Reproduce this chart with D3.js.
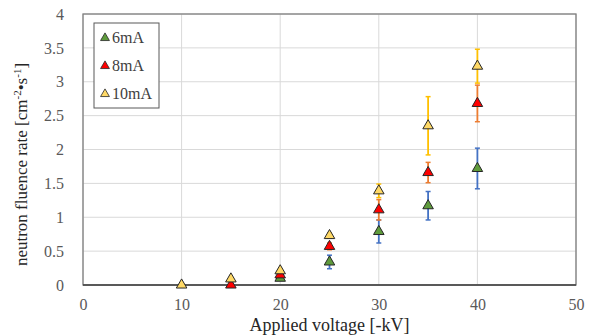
<!DOCTYPE html>
<html>
<head>
<meta charset="utf-8">
<script src="https://cdn.jsdelivr.net/npm/d3@7"></script>
<style>
  body { margin: 0; background: #fff; }
  svg text { font-family: "Liberation Serif", "Times New Roman", Times, "DejaVu Serif", serif !important; }
</style>
</head>
<body>
<svg id="chart"></svg>
<script>
const width = 593;
const height = 336;
const margin = { top: 14, right: 17, bottom: 51, left: 83 };
const serif = "'Liberation Serif', 'Times New Roman', Times, 'DejaVu Serif', serif";

// data
const voltages = [10, 15, 20, 25, 30, 35, 40];
const seriesNames = ["6mA", "8mA", "10mA"];
const rate6mA = [null, null, 0.1, 0.34, 0.79, 1.17, 1.72];
const err6mA = [null, null, 0.02, 0.1, 0.17, 0.21, 0.3];
const rate8mA = [null, 0.0, 0.15, 0.57, 1.11, 1.66, 2.68];
const err8mA = [null, 0.01, 0.02, 0.05, 0.15, 0.15, 0.27];
const rate10mA = [0.0, 0.09, 0.21, 0.73, 1.39, 2.35, 3.23];
const err10mA = [0.0, 0.01, 0.02, 0.04, 0.1, 0.43, 0.25];
const xTicks = [0, 10, 20, 30, 40, 50];
const yTicks = [0, 0.5, 1, 1.5, 2, 2.5, 3, 3.5, 4];

const markerFill = ["#5f9b3c", "#ff0000", "#ffd966"];
const errColor = ["#4472c4", "#ed7d31", "#ffc000"];

const series = [
  { name: seriesNames[0], values: rate6mA, errs: err6mA },
  { name: seriesNames[1], values: rate8mA, errs: err8mA },
  { name: seriesNames[2], values: rate10mA, errs: err10mA }
];

const svg = d3.select("#chart")
    .attr("width", width)
    .attr("height", height)
    .attr("font-family", serif);

const x = d3.scaleLinear().domain([0, 50]).range([margin.left, width - margin.right]);
const y = d3.scaleLinear().domain([0, 4]).range([height - margin.bottom, margin.top]);

// gridlines
svg.append("g")
    .selectAll("line.gx")
    .data(xTicks)
    .join("line")
    .attr("x1", d => x(d)).attr("x2", d => x(d))
    .attr("y1", y(0)).attr("y2", y(4))
    .attr("stroke", "#d9d9d9").attr("stroke-width", 1);

svg.append("g")
    .selectAll("line.gy")
    .data(yTicks)
    .join("line")
    .attr("x1", x(0)).attr("x2", x(50))
    .attr("y1", d => y(d)).attr("y2", d => y(d))
    .attr("stroke", "#d9d9d9").attr("stroke-width", 1);

// plot frame
svg.append("rect")
    .attr("x", x(0)).attr("y", y(4))
    .attr("width", x(50) - x(0)).attr("height", y(0) - y(4))
    .attr("fill", "none").attr("stroke", "#7f7f7f").attr("stroke-width", 1.3);

svg.append("line")
    .attr("x1", x(0)).attr("x2", x(50))
    .attr("y1", y(0)).attr("y2", y(0))
    .attr("stroke", "#404040").attr("stroke-width", 1.3);

// axes (labels only)
const xAxis = svg.append("g")
    .attr("transform", `translate(0,${y(0) + 11})`)
    .call(d3.axisBottom(x).tickValues(xTicks).tickSize(0));
xAxis.select(".domain").remove();
xAxis.attr("font-family", serif);
xAxis.selectAll("text").attr("fill", "#595959").style("font-size", "16px");

const yAxis = svg.append("g")
    .attr("transform", `translate(${x(0) - 16},0)`)
    .call(d3.axisLeft(y).tickValues(yTicks).tickSize(0).tickFormat(d3.format("")));
yAxis.select(".domain").remove();
yAxis.attr("font-family", serif);
yAxis.selectAll("text").attr("fill", "#595959").style("font-size", "16px");

// axis titles
svg.append("text")
    .attr("x", x(25))
    .attr("y", 331)
    .attr("text-anchor", "middle")
    .attr("fill", "#262626")
    .style("font-size", "18px")
    .text("Applied voltage [-kV]");

const yTitle = svg.append("text")
    .attr("transform", `translate(27,${y(2) + 15}) rotate(-90)`)
    .attr("text-anchor", "middle")
    .attr("fill", "#262626")
    .style("font-size", "17px");
yTitle.append("tspan").text("neutron fluence rate [cm");
yTitle.append("tspan").attr("dy", -6).style("font-size", "11px").text("-2");
yTitle.append("tspan").attr("dy", 6).text("•s");
yTitle.append("tspan").attr("dy", -6).style("font-size", "11px").text("-1");
yTitle.append("tspan").attr("dy", 6).text("]");

const tri = d3.symbol().type(d3.symbolTriangle).size(48);

// error bars and markers
series.forEach((s, i) => {
  const pts = voltages.map((v, j) => ({ v, val: s.values[j], err: s.errs[j] }))
      .filter(d => d.val !== null);
  const g = svg.append("g");
  const eb = g.selectAll("g.eb").data(pts.filter(d => d.err > 0.03)).join("g");
  eb.append("line")
      .attr("x1", d => x(d.v)).attr("x2", d => x(d.v))
      .attr("y1", d => y(d.val + d.err)).attr("y2", d => y(d.val - d.err))
      .attr("stroke", errColor[i]).attr("stroke-width", 1.8);
  [1, -1].forEach(sign => {
    eb.append("line")
        .attr("x1", d => x(d.v) - 2.5).attr("x2", d => x(d.v) + 2.5)
        .attr("y1", d => y(d.val + sign * d.err)).attr("y2", d => y(d.val + sign * d.err))
        .attr("stroke", errColor[i]).attr("stroke-width", 1.5);
  });
});

series.forEach((s, i) => {
  const pts = voltages.map((v, j) => ({ v, val: s.values[j] })).filter(d => d.val !== null);
  svg.append("g").selectAll("path").data(pts).join("path")
      .attr("transform", d => `translate(${x(d.v)},${y(d.val)})`)
      .attr("d", tri)
      .attr("fill", markerFill[i])
      .attr("stroke", "#262626").attr("stroke-width", 1);
});

// legend
const legend = svg.append("g").attr("transform", "translate(94,23)");
legend.append("rect")
    .attr("width", 65).attr("height", 85)
    .attr("fill", "#fff").attr("stroke", "#595959").attr("stroke-width", 1);
const items = legend.selectAll("g.item").data(seriesNames).join("g")
    .attr("transform", (d, i) => `translate(11,${15 + i * 28})`);
items.append("path")
    .attr("d", d3.symbol().type(d3.symbolTriangle).size(34))
    .attr("fill", (d, i) => markerFill[i])
    .attr("stroke", "#262626").attr("stroke-width", 0.8);
items.append("text")
    .attr("x", 7).attr("y", 5)
    .attr("fill", "#404040")
    .style("font-size", "16px")
    .text(d => d);
</script>
</body>
</html>
